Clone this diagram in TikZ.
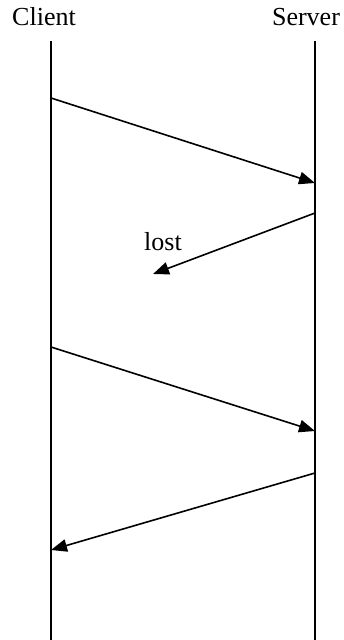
\documentclass[tikz,border=0pt]{standalone}
\usepackage{fontspec}
\setmainfont{Liberation Serif}
\usetikzlibrary{arrows.meta}
\begin{document}
\begin{tikzpicture}[x=1pt,y=-1pt,
  lifeline/.style={line width=1.6pt},
  msg/.style={line width=1.6pt,-{Triangle[length=16pt,width=12.5pt]}},
  lbl/.style={font=\fontsize{26}{28}\selectfont,inner sep=0pt,anchor=base}]
\useasboundingbox (0,0) rectangle (344,640);
% participants
\node[lbl] (client) at (44,25) {Client};
\node[lbl] (server) at (306,25) {Server};
\coordinate (cTop) at (51,41);
\coordinate (cBot) at (51,640);
\coordinate (sTop) at (315,41);
\coordinate (sBot) at (315,640);
\draw[lifeline] (cTop) -- (cBot);
\draw[lifeline] (sTop) -- (sBot);
% messages
\coordinate (m1a) at (51,98);
\coordinate (m1b) at (315,183);
\draw[msg] (m1a) -- (m1b);
\coordinate (m2a) at (315,213);
\coordinate (m2b) at (153,274);
\draw[msg] (m2a) -- (m2b);
\node[lbl] (lost) at (163,250) {lost};
\coordinate (m3a) at (51,347);
\coordinate (m3b) at (315,431);
\draw[msg] (m3a) -- (m3b);
\coordinate (m4a) at (315,473);
\coordinate (m4b) at (51,550);
\draw[msg] (m4a) -- (m4b);
\end{tikzpicture}
\end{document}
